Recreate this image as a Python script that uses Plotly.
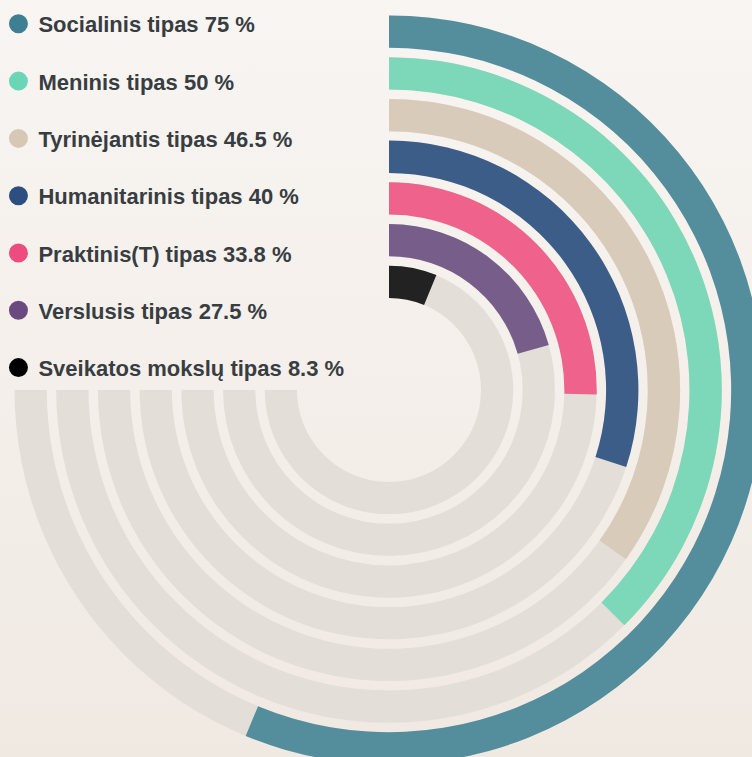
import base64
import plotly.graph_objects as go

# ---- data ----
categories = ["Socialinis tipas", "Meninis tipas", "Tyrinėjantis tipas", "Humanitarinis tipas",
              "Praktinis(T) tipas", "Verslusis tipas", "Sveikatos mokslų tipas"]
values = [75, 50, 46.5, 40, 33.8, 27.5, 8.3]
labels = [f"{c} {v:g} %" for c, v in zip(categories, values)]

# ---- style ----
bar_colors = ["#548e9c", "#7dd7b9", "#d9cbb9", "#3d5d89", "#ee628c", "#775e8a", "#222222"]
legend_colors = ["#3f7f94", "#6bd6b5", "#d7c8b5", "#2d4e80", "#ee4c7f", "#6a4a80", "#000000"]
track_color = "#e3dfd8"
SWEEP = 270.0          # full scale (100 %) spans 270 degrees
INNER = 92.0           # px radius of innermost ring
PITCH = 41.7
THICK = 32.3
W, H = 778, 780        # polar centre ends up at (389, 390)

n = len(values)
bases = [INNER + (n - 1 - i) * PITCH for i in range(n)]

fig = go.Figure()

# gray background tracks
fig.add_trace(go.Barpolar(
    r=[THICK] * n, base=bases, theta=[SWEEP / 2] * n, width=[SWEEP] * n,
    marker=dict(color=track_color, line=dict(width=0)),
    showlegend=False, hoverinfo="skip"))

# value bars
for i in range(n):
    ang = values[i] / 100 * SWEEP
    fig.add_trace(go.Barpolar(
        r=[THICK], base=[bases[i]], theta=[ang / 2], width=[ang],
        marker=dict(color=bar_colors[i], line=dict(width=0)),
        name=labels[i], showlegend=False))

# legend entries
for i in range(n):
    fig.add_trace(go.Scatterpolar(
        r=[None], theta=[None], mode="markers", name=labels[i], legendgroup=f"g{i}",
        marker=dict(color=legend_colors[i], size=16, symbol="circle",
                    line=dict(color=legend_colors[i], width=3))))

svg = ('<svg xmlns="http://www.w3.org/2000/svg" width="10" height="10" preserveAspectRatio="none">'
       '<defs><linearGradient id="g" x1="0" y1="0" x2="0" y2="1">'
       '<stop offset="0" stop-color="#f8f5f2"/><stop offset="1" stop-color="#f0e9e2"/>'
       '</linearGradient></defs><rect width="10" height="10" fill="url(#g)"/></svg>')
src = "data:image/svg+xml;base64," + base64.b64encode(svg.encode()).decode()

fig.update_layout(
    width=W, height=H,
    margin=dict(l=0, r=0, t=0, b=0, autoexpand=False),
    paper_bgcolor="#f4f0ec",
    images=[dict(source=src, xref="paper", yref="paper", x=0, y=1, sizex=1, sizey=1,
                 sizing="stretch", layer="below", xanchor="left", yanchor="top")],
    polar=dict(
        domain=dict(x=[0, 1], y=[0, 1]),
        bgcolor="rgba(0,0,0,0)",
        radialaxis=dict(range=[0, W / 2], visible=False, showgrid=False),
        angularaxis=dict(rotation=90, direction="clockwise", visible=False, showgrid=False),
        barmode="overlay",
    ),
    legend=dict(x=-0.002, y=1 - 3 / H, xanchor="left", yanchor="top", bgcolor="rgba(0,0,0,0)",
                font=dict(family="Liberation Sans, Arial, sans-serif", size=22,
                          color="#383d42", weight="bold"),
                tracegroupgap=25.7, traceorder="grouped", itemclick=False),
    showlegend=True,
)

post = ("document.documentElement.style.overflow='hidden';"
        "document.body.style.overflow='hidden';document.body.style.margin='0';")
fig.write_html("out.html", config={"displayModeBar": False}, post_script=post)
